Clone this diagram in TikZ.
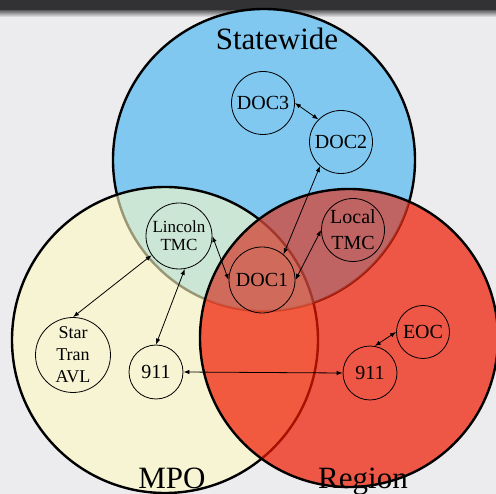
\documentclass[tikz,border=0pt]{standalone}
\usepackage{fontspec}
\setmainfont{Liberation Serif}
\usetikzlibrary{arrows.meta}

\definecolor{bggrey}{RGB}{236,236,238}
\definecolor{bargrey}{RGB}{50,50,52}
\definecolor{stateblue}{RGB}{128,200,240}
\definecolor{mpoyellow}{RGB}{255,250,195}
\definecolor{regionred}{RGB}{239,25,0}
\definecolor{dullgrey}{RGB}{150,170,180}

\begin{document}
\begin{tikzpicture}[x=1pt,y=-1pt,
    area/.style={line width=2.4pt},
    title/.style={anchor=base,font=\fontsize{31}{36}\selectfont},
    unit/.style={draw,circle,line width=0.8pt,inner sep=0pt,align=center,
      font=\fontsize{20}{24}\selectfont},
    >={Latex[length=6pt,width=4.5pt]}]
   \useasboundingbox (0,0) rectangle (496,494);
   \fill[bggrey] (0,0) rectangle (496,494);
   \fill[bargrey] (0,0) rectangle (496,11);
   \shade[top color=bargrey!70, bottom color=bggrey] (0,11) rectangle (496,17);

   % areas
   \filldraw[area,fill=stateblue] (264,160) circle (151pt);
   \filldraw[area,fill=mpoyellow,fill opacity=0.6] (165,340) circle (153pt);
   \fill[regionred,opacity=0.7] (349,338) circle (149pt);
   \begin{scope}
     \clip (264,160) circle (151pt);
     \fill[dullgrey,opacity=0.25] (349,338) circle (149pt);
   \end{scope}
   \draw[area] (349,338) circle (149pt);

   \node[title] (statewide) at (277,50) {Statewide};
   \node[title] (mpo) at (172,489) {MPO};
   \node[title] (region) at (363,489) {Region};

   % centers
   \node[unit,minimum size=63pt] (doc3) at (263,103) {DOC3};
   \node[unit,minimum size=63pt] (doc2) at (341,142) {DOC2};
   \node[unit,minimum size=66pt] (doc1) at (262,280) {DOC1};
   \node[unit,minimum size=66pt,font=\fontsize{17}{18}\selectfont] (lincoln) at (179,236) {Lincoln\\TMC};
   \node[unit,minimum size=63pt,font=\fontsize{20}{26}\selectfont] (localtmc) at (353,230) {Local\\TMC};
   \node[unit,minimum size=75pt,font=\fontsize{18}{22}\selectfont] (startran) at (73,355) {Star\\Tran\\AVL};
   \node[unit,minimum size=54pt] (mpo911) at (156,372) {911};
   \node[unit,minimum size=54pt] (reg911) at (370,373) {911};
   \node[unit,minimum size=53pt] (eoc) at (423,332) {EOC};

   \path[<->,line width=0.8pt] (doc3.east) edge (doc2.north west);
   \path[<->,line width=0.8pt] (doc2.229) edge (doc1.50);
   \path[<->,line width=0.8pt] (localtmc.west) edge (doc1.east);
   \path[<->,line width=0.8pt] (lincoln.east) edge (doc1.west);
   \path[<->,line width=0.8pt] (lincoln.215) edge (startran.north);
   \path[<->,line width=0.8pt] (lincoln.280) edge (mpo911.north);
   \path[<->,line width=0.8pt] (mpo911.east) edge (reg911.west);
   \path[<->,line width=0.8pt] (reg911.80) edge (eoc.west);
\end{tikzpicture}
\end{document}
